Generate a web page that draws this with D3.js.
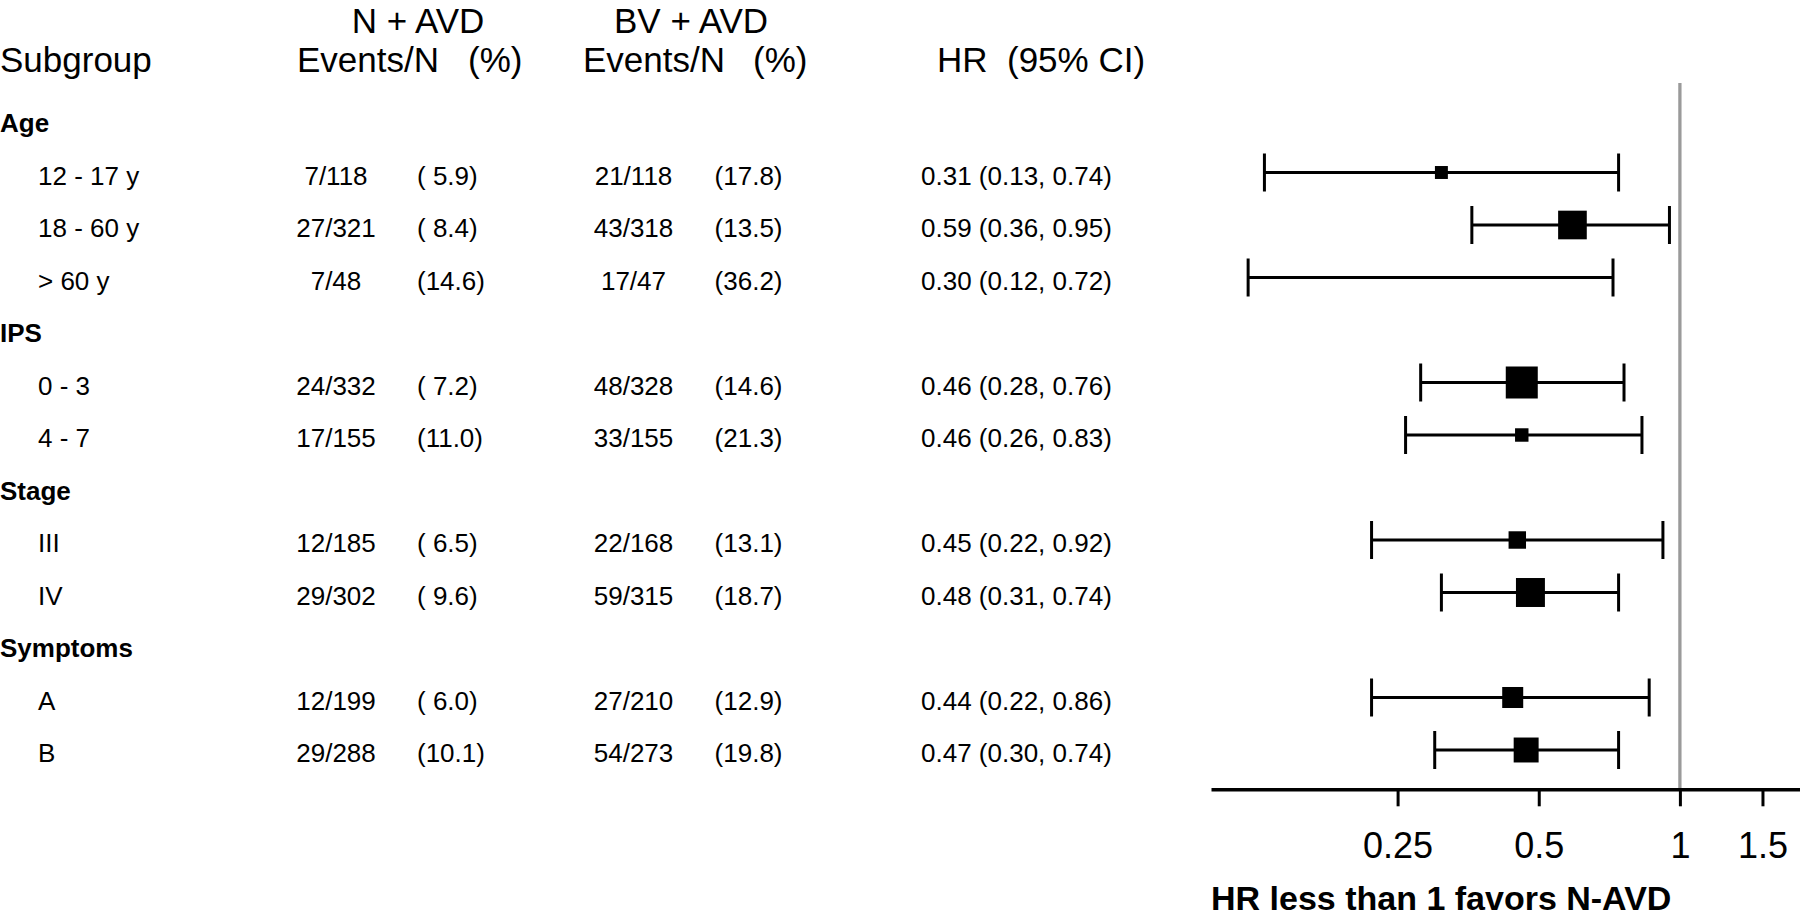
<!DOCTYPE html>
<html>
<head>
<meta charset="utf-8">
<script src="https://cdn.jsdelivr.net/npm/d3@7"></script>
<style>
	body { margin: 0; background: #fff; }
	svg text { font-family: "Liberation Sans", Arial, sans-serif; fill: #000; white-space: pre; }
</style>
</head>
<body>
<svg id="forest" width="1800" height="918"></svg>
<script>
var groupNames = ["Age", "IPS", "Stage", "Symptoms"];
var subgroups = ["12 - 17 y", "18 - 60 y", "> 60 y", "0 - 3", "4 - 7", "III", "IV", "A", "B"];
var subgroupGroup = [0, 0, 0, 1, 1, 2, 2, 3, 3];

var nEvents = [7, 27, 7, 24, 17, 12, 29, 12, 29];
var nTotal = [118, 321, 48, 332, 155, 185, 302, 199, 288];
var nPct = [5.9, 8.4, 14.6, 7.2, 11.0, 6.5, 9.6, 6.0, 10.1];

var bvEvents = [21, 43, 17, 48, 33, 22, 59, 27, 54];
var bvTotal = [118, 318, 47, 328, 155, 168, 315, 210, 273];
var bvPct = [17.8, 13.5, 36.2, 14.6, 21.3, 13.1, 18.7, 12.9, 19.8];

var hr = [0.31, 0.59, 0.30, 0.46, 0.46, 0.45, 0.48, 0.44, 0.47];
var hrLow = [0.13, 0.36, 0.12, 0.28, 0.26, 0.22, 0.31, 0.22, 0.30];
var hrHigh = [0.74, 0.95, 0.72, 0.76, 0.83, 0.92, 0.74, 0.86, 0.74];
// relative weight of each estimate (box area)
var weights = [3.8, 18.6, 0.2, 23.2, 4.1, 6.9, 19.0, 10.0, 14.1];

var hrTicks = [0.25, 0.5, 1, 1.5];
var axisTitle = "HR less than 1 favors N-AVD";

// one line per table row, group headings included
var rows = [];
var rowIndex = 0;
groupNames.forEach(function (name, g) {
	rows.push({type: 'group', label: name, row: rowIndex++});
	subgroups.forEach(function (label, i) {
		if (subgroupGroup[i] === g) {
			rows.push({type: 'item', i: i, label: label, row: rowIndex++});
		}
	});
});

var svg = d3.select("svg#forest");

var y = d3.scaleLinear()
	.domain([0, rows.length - 1])
	.range([120, 750]);

var x = d3.scaleLog()
	.domain([0.1, 2])
	.range([1211, 1211 + 468.9 * Math.log10(20)]);

var size = d3.scaleSqrt()
	.domain([0, d3.max(weights)])
	.range([0, 32]);

var axisY = 789.3;

function pct(v) {
	return '(' + (v < 10 ? ' ' : '') + v.toFixed(1) + ')';
}

// headers
var head = svg.append("g");
head.append("text").attr("x", 418).attr("y", 33).attr("font-size", 35).attr("text-anchor", "middle").text("N + AVD");
head.append("text").attr("x", 691).attr("y", 33).attr("font-size", 35).attr("text-anchor", "middle").text("BV + AVD");
[
	["Subgroup", 0],
	["Events/N", 297],
	["(%)", 468],
	["Events/N", 583],
	["(%)", 753],
	["HR", 937],
	["(95% CI)", 1007]
].forEach(function (h) {
	head.append("text")
		.attr("x", h[1])
		.attr("y", 71.7)
		.attr("font-size", 35)
		.text(h[0]);
});

// table
var table = svg.append("g").attr("font-size", 26);

rows.forEach(function (r) {
	var ty = y(r.row) + 12;
	if (r.type === 'group') {
		table.append("text")
			.attr("x", 0)
			.attr("y", ty)
			.attr("font-weight", "bold")
			.text(r.label);
		return;
	}
	var i = r.i;
	table.append("text").attr("x", 38).attr("y", ty).text(r.label);
	table.append("text").attr("x", 336).attr("y", ty).attr("text-anchor", "middle").text(nEvents[i] + '/' + nTotal[i]);
	table.append("text").attr("x", 417).attr("y", ty).text(pct(nPct[i]));
	table.append("text").attr("x", 633.5).attr("y", ty).attr("text-anchor", "middle").text(bvEvents[i] + '/' + bvTotal[i]);
	table.append("text").attr("x", 714.6).attr("y", ty).text(pct(bvPct[i]));
	table.append("text").attr("x", 921).attr("y", ty)
		.text(hr[i].toFixed(2) + ' (' + hrLow[i].toFixed(2) + ', ' + hrHigh[i].toFixed(2) + ')');
});

// reference line at HR = 1
svg.append("line")
	.attr("x1", x(1))
	.attr("x2", x(1))
	.attr("y1", 83)
	.attr("y2", axisY)
	.attr("stroke", "#9a9a9a")
	.attr("stroke-width", 3.3);

// confidence intervals and boxes
var items = rows.filter(function (r) { return r.type === 'item'; });

var ci = svg.append("g")
	.selectAll("g")
	.data(items)
	.enter().append("g")
	.attr("stroke", "#000")
	.attr("stroke-width", 3);

ci.append("line")
	.attr("x1", function (d) { return x(hrLow[d.i]); })
	.attr("x2", function (d) { return x(hrHigh[d.i]); })
	.attr("y1", function (d) { return y(d.row); })
	.attr("y2", function (d) { return y(d.row); });

ci.append("line")
	.attr("x1", function (d) { return x(hrLow[d.i]); })
	.attr("x2", function (d) { return x(hrLow[d.i]); })
	.attr("y1", function (d) { return y(d.row) - 19; })
	.attr("y2", function (d) { return y(d.row) + 19; });

ci.append("line")
	.attr("x1", function (d) { return x(hrHigh[d.i]); })
	.attr("x2", function (d) { return x(hrHigh[d.i]); })
	.attr("y1", function (d) { return y(d.row) - 19; })
	.attr("y2", function (d) { return y(d.row) + 19; });

svg.append("g")
	.selectAll("rect")
	.data(items)
	.enter().append("rect")
	.attr("x", function (d) { return x(hr[d.i]) - size(weights[d.i]) / 2; })
	.attr("y", function (d) { return y(d.row) - size(weights[d.i]) / 2; })
	.attr("width", function (d) { return size(weights[d.i]); })
	.attr("height", function (d) { return size(weights[d.i]); })
	.attr("fill", "#000");

// x axis
var axis = svg.append("g")
	.attr("transform", "translate(0," + axisY + ")")
	.call(d3.axisBottom(x)
		.tickValues(hrTicks)
		.tickFormat(d3.format(""))
		.tickSize(17)
		.tickSizeOuter(0)
		.tickPadding(26));

axis.select(".domain").attr("stroke-width", 3.5);
axis.selectAll(".tick line").attr("stroke-width", 3);
axis.selectAll(".tick text")
	.attr("font-size", 36)
	.attr("font-family", "'Liberation Sans', Arial, sans-serif");

svg.append("text")
	.attr("x", 1211)
	.attr("y", 910)
	.attr("font-size", 34)
	.attr("font-weight", "bold")
	.text(axisTitle);
</script>
</body>
</html>
